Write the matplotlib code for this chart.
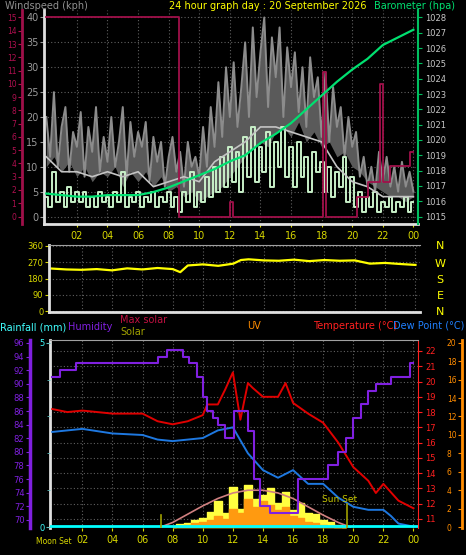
import matplotlib
matplotlib.use("Agg")
import matplotlib.pyplot as plt
import numpy as np

# ---------------- data ----------------
quarter_hours = [i * 0.25 for i in range(97)]
gust = [20, 12, 25, 10, 18, 22, 9, 17, 14,
        21, 8, 18, 13, 22, 9, 16, 11,
        20, 10, 15, 22, 8, 19, 12, 17,
        14, 19, 7, 16, 11, 15, 6, 12,
        16, 9, 13, 6, 15, 10, 12, 8,
        18, 10, 22, 14, 27, 16, 30, 20,
        31, 18, 26, 35, 20, 38, 24, 33,
        40, 22, 36, 28, 38, 20, 34, 26,
        33, 21, 30, 18, 32, 24, 28, 16,
        29, 15, 26, 18, 22, 12, 20, 14,
        17, 8, 12, 6, 10, 5, 13, 7,
        12, 6, 10, 5, 11, 6, 9, 5]
wind = [4, 2, 9, 3, 5, 2, 6, 3, 5,
        3, 5, 2, 4, 2, 5, 3, 4,
        2, 5, 3, 9, 2, 4, 3, 5,
        2, 4, 3, 5, 2, 4, 3, 5,
        2, 4, 1, 5, 3, 9, 2, 5,
        3, 8, 4, 10, 5, 12, 6, 14,
        7, 13, 5, 16, 8, 18, 7, 14,
        9, 17, 6, 15, 10, 18, 8, 14,
        6, 15, 8, 12, 5, 13, 9, 11,
        5, 10, 4, 9, 6, 12, 3, 8,
        2, 5, 1, 4, 2, 5, 1, 3,
        2, 4, 1, 3, 2, 4, 1, 3]
half_hours = [i * 0.5 for i in range(49)]
lull = [10, 12, 9, 11, 8, 10, 7, 9, 8, 10, 6, 9, 7, 9, 6, 8, 5, 6, 4, 5,
        3, 4, 5, 6, 8, 10, 12, 14, 15, 14, 17, 18, 16, 19, 15, 17, 14, 15, 12, 13,
        10, 9, 7, 6, 5, 4, 4, 3, 4]
hours = list(range(25))
wind_avg = [12, 9, 9, 8, 9, 8, 9, 6, 7, 8, 7, 11, 13, 15, 18, 18, 17, 16, 15, 10, 7, 6, 4, 4, 4]
baro = [1016.5, 1016.4, 1016.3, 1016.3, 1016.4, 1016.4, 1016.4, 1016.6, 1016.9, 1017.3,
        1017.7, 1018.1, 1018.6, 1019.0, 1019.8, 1020.4, 1021.1, 1022.0, 1022.9, 1023.8,
        1024.6, 1025.3, 1026.2, 1026.7, 1027.2]
crim_t = [0, 8.7, 12.0, 12.2, 18.1, 18.3, 20.3, 21.0, 21.8, 22.0, 22.5, 23.8, 24.0]
crim_v = [15, 0, 1.1, 0, 10.9, 0, 1.5, 2.6, 10.0, 2.6, 3.8, 4.9, 4.9]

dir_t = [0, 1, 2, 3, 4, 5, 6, 7, 8, 8.5, 9, 10, 11, 12, 12.5, 13, 14, 15, 16, 17, 18, 19, 20, 21, 22, 23, 24]
direction = [235, 230, 228, 232, 225, 236, 230, 238, 232, 215, 252, 258, 250, 262, 282, 286, 280, 278, 284, 276, 282, 278, 280, 262, 266, 260, 255]

temp_t = [0, 1, 2, 4, 6, 7, 8, 9, 10, 10.3, 11, 11.5, 12, 12.5, 13, 13.3, 14, 15, 15.5, 16, 17, 18, 19, 20, 21, 21.5, 22, 23, 24]
temperature = [18.2, 18.0, 18.1, 17.9, 17.9, 17.4, 17.2, 17.4, 17.8, 18.5, 18.5, 19.5, 20.6, 17.5, 19.9, 19.6, 19.0, 19.0, 19.9, 18.6, 17.9, 17.3, 16.0, 14.4, 13.5, 12.7, 13.3, 12.2, 11.7]
dew_t = [0, 2, 4, 6, 7, 8, 9, 10, 11, 12, 13, 14, 15, 16, 17, 18, 19, 20, 21, 22, 22.5, 23, 24]
dewpoint = [16.7, 16.9, 16.6, 16.5, 16.2, 16.1, 16.2, 16.3, 16.8, 17.0, 15.3, 14.2, 13.7, 14.2, 13.3, 13.3, 12.4, 11.8, 11.6, 11.6, 11.2, 10.7, 10.5]
hum_t = [0, 0.5, 1.6, 7.0, 7.6, 8.7, 9.1, 9.6, 10.0, 10.3, 10.7, 11.0, 11.5, 12.1, 13.0, 13.4, 13.8, 14.5, 16.3, 18.0, 18.3, 19.0, 19.5, 20.0, 20.5, 21.0, 21.5, 22.5, 23.8, 24]
humidity = [91, 92, 93, 94, 95, 94, 93, 91, 88, 86, 85, 84, 82, 86, 83, 76, 72, 71, 76, 76, 78, 80, 82, 85, 87, 89, 90, 91, 93, 93]
solar_t = [7.2, 8, 9, 10, 11, 12, 13, 14, 15, 16, 17, 18, 19, 19.8]
max_solar = [0, 0.5, 1.4, 2.3, 3.1, 3.7, 4.0, 4.0, 3.7, 3.1, 2.2, 1.3, 0.5, 0]
sol_t = [8, 8.5, 9, 9.5, 10, 10.5, 11, 11.5, 12, 12.5, 13, 13.5, 14, 14.5, 15, 15.5, 16, 16.5, 17, 17.5, 18, 18.5, 19, 19.5]
solar = [0.1, 0.3, 0.4, 0.8, 1.0, 1.6, 2.8, 1.5, 4.3, 2.0, 4.6, 3.0, 3.5, 4.2, 2.6, 3.8, 1.8, 2.6, 1.5, 1.4, 0.8, 0.5, 0.2, 0.05]
uv = [0, 0.1, 0.2, 0.4, 0.5, 0.8, 1.2, 0.9, 2.0, 1.5, 3.0, 2.2, 2.8, 2.4, 1.8, 2.2, 1.2, 1.0, 0.6, 0.4, 0.2, 0.1, 0.05, 0]
xticks = [2, 4, 6, 8, 10, 12, 14, 16, 18, 20, 22, 24]
xticklabels = ["02", "04", "06", "08", "10", "12", "14", "16", "18", "20", "22", "00"]

# ---------------- figure ----------------
W, H = 466, 555
fig = plt.figure(figsize=(W / 100, H / 100), dpi=100, facecolor="black")
PX = 72 / 100  # points per pixel
def rect(x0, y0, x1, y1):
    return [x0 / W, 1 - y1 / H, (x1 - x0) / W, (y1 - y0) / H]

XL = (-0.15, 24.3)
def style(ax):
    ax.set_facecolor("black")
    ax.set_xlim(*XL)
    for s in ax.spines.values():
        s.set_visible(False)
    ax.grid(True, color="#606060", linestyle=(0, (1, 2)), linewidth=0.8)
    ax.set_axisbelow(True)

# ---- top panel ----
ax = fig.add_axes(rect(44, 10, 418, 224))
style(ax)
ax.set_ylim(-1.5, 41.5)
ax.set_yticks(range(0, 41, 5))
ax.spines["left"].set_visible(True); ax.spines["left"].set_color("#e0e0e0"); ax.spines["left"].set_linewidth(2)
ax.spines["bottom"].set_visible(True); ax.spines["bottom"].set_color("#e0e0e0"); ax.spines["bottom"].set_linewidth(2)
ax.set_xticks(xticks); ax.set_xticklabels(xticklabels)
ax.tick_params(axis="x", colors="#d8d800", labelsize=7, length=2, pad=3)
lull_q = np.interp(quarter_hours, half_hours, lull)
ax.fill_between(quarter_hours, lull_q, gust, color="#5a5a5a", lw=0)
ax.plot(quarter_hours, gust, color="#8c8c8c", lw=1.4)
ax.step(quarter_hours, wind, where="mid", color="#c8f0c8", lw=1.4)
ax.plot(hours, wind_avg, color="#c4c4c4", lw=1.2)

axc = ax.twinx(); axc.set_xlim(*XL)
axc.set_ylim(-1.5 * 15 / 40, 41.5 * 15 / 40)
for s in axc.spines.values(): s.set_visible(False)
axc.step(crim_t, crim_v, where="post", color="#a0104a", lw=1.3)
axc.yaxis.set_ticks_position("left")
axc.spines["left"].set_visible(True); axc.spines["left"].set_position(("outward", 22 * PX))
axc.spines["left"].set_color("#a0104a"); axc.spines["left"].set_linewidth(2)
axc.set_yticks(range(0, 16))
axc.tick_params(axis="y", colors="#b01050", labelsize=5.5, length=3, pad=1, labelleft=True, labelright=False)

axb = ax.twinx(); axb.set_xlim(*XL)
axb.set_ylim(1015 - 1.5 * 13 / 40, 1015 + 41.5 * 13 / 40)
for s in axb.spines.values(): s.set_visible(False)
axb.spines["right"].set_visible(True); axb.spines["right"].set_color("#00c060"); axb.spines["right"].set_linewidth(1.5)
axb.set_yticks(range(1015, 1029))
axb.tick_params(axis="y", colors="#00c060", labelsize=6, length=3, pad=2)
for lab in axb.get_yticklabels(): lab.set_color("#c8c8c8")
axb.plot(hours, baro, color="#00e070", lw=1.6)

ax.yaxis.tick_left()
ax.tick_params(axis="y", colors="#9a9a9a", labelsize=7, length=3, pad=1)

fig.text(5 / W, 1 - 6 / H, "Windspeed (kph)", color="#909090", fontsize=7, va="center")
fig.text(268 / W, 1 - 6 / H, "24 hour graph day : 20 September 2026", color="#ffff00", fontsize=7, va="center", ha="center")
fig.text(374 / W, 1 - 6 / H, "Barometer (hpa)", color="#00e070", fontsize=7, va="center")

# ---- direction panel ----
axd = fig.add_axes(rect(49, 245, 420, 312))
style(axd)
axd.set_ylim(-5, 365)
axd.set_yticks([0, 90, 180, 270, 360])
axd.set_xticks(xticks); axd.set_xticklabels([])
axd.tick_params(axis="x", length=0)
axd.tick_params(axis="y", colors="#d8d800", labelsize=6, length=3, pad=1)
axd.spines["left"].set_visible(True); axd.spines["left"].set_color("#e0e0e0"); axd.spines["left"].set_linewidth(2)
axd.spines["bottom"].set_visible(True); axd.spines["bottom"].set_color("#e0e0e0"); axd.spines["bottom"].set_linewidth(2)
axd.spines["top"].set_visible(True); axd.spines["top"].set_color("#a0a0a0")
axd.plot(dir_t, direction, color="#ffff00", lw=1.6)
for lab, y in zip(["N", "W", "S", "E", "N"], [246, 264, 280, 296, 312]):
    fig.text(440 / W, 1 - y / H, lab, color="#ffff00", fontsize=8, va="center", ha="center")

# ---- bottom panel ----
axt = fig.add_axes(rect(50, 340, 418, 528))
style(axt)
axt.set_ylim(10.41, 22.72)
axt.set_xticks(xticks); axt.set_xticklabels(xticklabels)
axt.tick_params(axis="x", colors="#d8d800", labelsize=7, length=2, pad=3)
axt.set_yticks(range(11, 23))
axt.spines["left"].set_visible(True); axt.spines["left"].set_color("#e0e0e0"); axt.spines["left"].set_linewidth(2)
axt.spines["right"].set_visible(True); axt.spines["right"].set_color("#ff2020"); axt.spines["right"].set_linestyle((0, (1, 1)))
axt.spines["top"].set_visible(True); axt.spines["top"].set_color("#a0a0a0")

axu = axt.twinx(); axu.set_xlim(*XL); axu.set_ylim(-0.1, 20.3)
for s in axu.spines.values(): s.set_visible(False)
axu.spines["right"].set_visible(True); axu.spines["right"].set_position(("outward", 44 * PX))
axu.spines["right"].set_color("#ff8c00"); axu.spines["right"].set_linewidth(2)
axu.set_yticks(range(0, 21, 2))
axu.tick_params(axis="y", colors="#ff8c00", labelsize=5.5, length=3, direction="in", pad=-11)
axu.fill_between(sol_t, 0, solar, color="#ffff40", step="mid")
axu.fill_between(sol_t, 0, uv, color="#ff9a10", step="mid")
axu.plot(solar_t, max_solar, color="#d08080", lw=1.2)
axu.plot([-0.15, 24.3], [0.15, 0.15], color="#00ffff", lw=2)
axu.plot([7.2, 7.2], [0, 1.3], color="#a0a000", lw=1.2)
axu.plot([19.6, 19.6], [0, 2.5], color="#a0a000", lw=1.2)
axu.text(19.1, 2.7, "Sun Set", color="#c8c800", fontsize=6.5, ha="center")

axh = axt.twinx(); axh.set_xlim(*XL); axh.set_ylim(68.8, 96.44)
for s in axh.spines.values(): s.set_visible(False)
axh.yaxis.set_ticks_position("left")
axh.spines["left"].set_visible(True); axh.spines["left"].set_position(("outward", 20 * PX))
axh.spines["left"].set_color("#8020e0"); axh.spines["left"].set_linewidth(2.5)
axh.set_yticks(range(70, 97, 2))
axh.tick_params(axis="y", colors="#8020e0", labelsize=6, length=3, pad=1, labelleft=True, labelright=False)
axh.step(hum_t, humidity, where="post", color="#8020e0", lw=1.5)

axr = axt.twinx(); axr.set_xlim(*XL); axr.set_ylim(-0.1 / 4, 20.3 / 4)
for s in axr.spines.values(): s.set_visible(False)
axr.yaxis.set_ticks_position("left")
axr.set_yticks([0, 5]); axr.set_yticks([1, 2, 3, 4], minor=True)
axr.tick_params(axis="y", which="both", colors="#60c0c0", labelsize=6, length=3, pad=1, labelleft=True, labelright=False)
axr.tick_params(axis="y", which="minor", length=2)
for lab in axr.get_yticklabels(): lab.set_color("#40ffff")

axt.yaxis.tick_right()
axt.tick_params(axis="y", colors="#ff2020", labelsize=6, length=3, pad=2, labelright=True, labelleft=False)

axt.plot(temp_t, temperature, color="#e00000", lw=1.4, zorder=5)
axt.plot(dew_t, dewpoint, color="#1e78e0", lw=1.4, zorder=5)

fig.text(0 / W, 1 - 327 / H, "Rainfall (mm)", color="#40ffff", fontsize=7, va="center")
fig.text(68 / W, 1 - 327 / H, "Humidity", color="#8020e0", fontsize=7, va="center")
fig.text(120 / W, 1 - 320 / H, "Max solar", color="#c01040", fontsize=7, va="center")
fig.text(120 / W, 1 - 332 / H, "Solar", color="#a0a000", fontsize=7, va="center")
fig.text(247 / W, 1 - 326 / H, "UV", color="#ff8c00", fontsize=7, va="center")
fig.text(313 / W, 1 - 326 / H, "Temperature (°C)", color="#ff2020", fontsize=7, va="center")
fig.text(393 / W, 1 - 326 / H, "Dew Point (°C)", color="#2080ff", fontsize=7, va="center")
fig.text(36 / W, 1 - 542 / H, "Moon Set", color="#d8d800", fontsize=5.5, va="center")

fig.savefig("out.png", dpi=100, facecolor="black")
